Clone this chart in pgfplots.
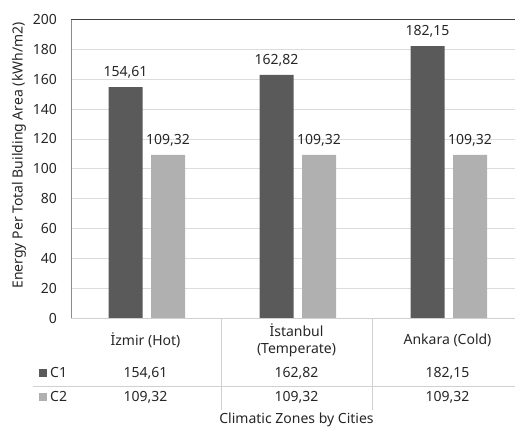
\documentclass[border=0pt]{standalone}
\usepackage{fontspec}
\setmainfont{Noto Sans}
\usepackage{pgfplots}
\pgfplotsset{compat=1.18}

\definecolor{barC1}{HTML}{5A5A5A}
\definecolor{barC2}{HTML}{B0B0B0}
\definecolor{gridgray}{HTML}{DCDCDC}
\definecolor{rulegray}{HTML}{D0D0D0}
\definecolor{leftline}{HTML}{8C8C8C}
\definecolor{topline}{HTML}{404040}
\definecolor{txt}{HTML}{262626}

\newcommand{\chartfont}{\fontsize{14bp}{17bp}\selectfont}

\begin{document}
\begin{tikzpicture}[x=1bp,y=1bp]
\useasboundingbox (0,0) rectangle (515,428);
\begin{axis}[
  at={(71bp,110bp)}, anchor=south west,
  scale only axis,
  width=444bp, height=298.5bp,
  xmin=-0.5, xmax=2.4404,
  ymin=0, ymax=200,
  ytick={0,20,...,200},
  xtick=\empty,
  tick style={draw=none},
  axis line style={draw=none},
  ymajorgrids,
  grid style={gridgray, line width=0.8pt},
  /pgf/number format/assume math mode=true,
  yticklabel style={font=\chartfont, text=txt, inner sep=0pt, xshift=-14bp},
  ybar, bar width=34bp,
  nodes near coords,
  nodes near coords style={font=\chartfont, text=txt, anchor=south, yshift=5bp,
    /pgf/number format/.cd, fixed, fixed zerofill, precision=2, use comma},
  clip=false,
]
\addplot[fill=barC1, draw=none, bar shift=-21bp] coordinates {(0,154.61) (1,162.82) (2,182.15)};
\addplot[fill=barC2, draw=none, bar shift=21.5bp] coordinates {(0,109.32) (1,109.32) (2,109.32)};
% frame lines of the plot area
\draw[leftline, line width=0.9pt] (rel axis cs:0,0) -- (rel axis cs:0,1);
\draw[topline, line width=0.9pt] (rel axis cs:0,1) -- (rel axis cs:1,1);
\draw[rulegray, line width=0.9pt] (rel axis cs:0,0) -- (rel axis cs:1,0);
\end{axis}

% data table below the plot
\draw[rulegray, line width=0.8pt] (221,110) -- (221,18);
\draw[rulegray, line width=0.8pt] (372,110) -- (372,18);
\draw[rulegray, line width=0.8pt] (33,42) -- (515,42);

\begin{scope}[every node/.style={font=\chartfont, text=txt, inner sep=0pt}]
\node[rotate=90] at (19,272.5) {Energy Per Total Building Area (kWh/m2)};

\node at (145.5,88) {İzmir (Hot)};
\node[align=center] at (296.5,88) {İstanbul\\(Temperate)};
\node at (447.5,88) {Ankara (Cold)};

\fill[barC1] (39,51) rectangle (47,59);
\node[anchor=west] at (50,55.5) {C1};
\fill[barC2] (39,27) rectangle (47,35);
\node[anchor=west] at (50,31.5) {C2};

\node at (145.5,55) {154,61};
\node at (296.5,55) {162,82};
\node at (447.5,55) {182,15};
\node at (145.5,31) {109,32};
\node at (296.5,31) {109,32};
\node at (447.5,31) {109,32};

\node[anchor=base] at (296.5,4.5) {Climatic Zones by Cities};
\end{scope}
\end{tikzpicture}
\end{document}
